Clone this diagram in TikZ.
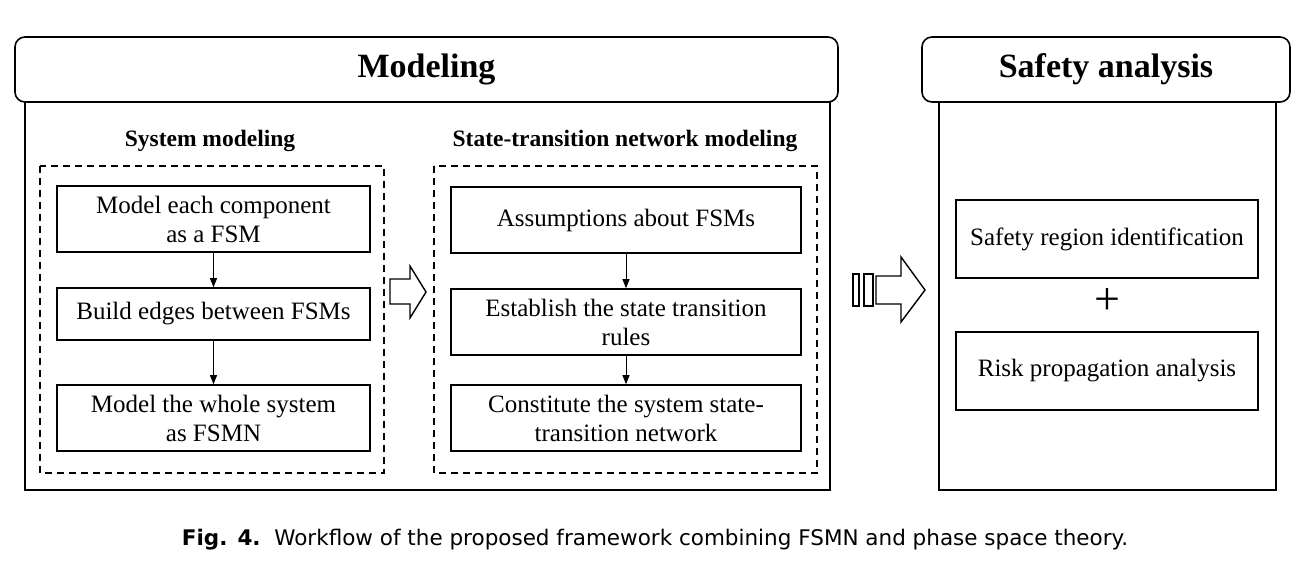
\documentclass[tikz,border=0pt]{standalone}
\usepackage{fontspec}
\setmainfont{Liberation Serif}
\newfontfamily\capfont{DejaVu Sans}
\usetikzlibrary{arrows.meta}
\begin{document}
\begin{tikzpicture}[x=1pt,y=-1pt,line width=1.6pt,
  bx/.style={draw,minimum width=313pt,align=center,font=\fontsize{25}{29}\selectfont,inner sep=2pt},
  sbx/.style={draw,minimum width=302pt,minimum height=78pt,align=center,font=\fontsize{25}{29}\selectfont},
  hd/.style={draw,rounded corners=10pt,font=\bfseries\fontsize{34}{38}\selectfont},
  dbox/.style={draw,dashed,dash pattern=on 7pt off 5pt,line width=1.8pt},
  ar/.style={-{Triangle[length=9pt,width=7pt]},line width=1pt},
  holl/.style={draw,line width=1.4pt,line join=miter}]
\useasboundingbox (0,0) rectangle (1310,575);
% Modeling frame
\draw (25,102) rectangle (830,490);
\node[hd,minimum width=823pt,minimum height=65pt] (mh) at (426.5,69.5) {Modeling};
\draw (939,102) rectangle (1276,490);
\node[hd,minimum width=368pt,minimum height=65pt] (sh) at (1106,69.5) {Safety analysis};
% left column
\node[font=\bfseries\fontsize{23.5}{27}\selectfont] (t1) at (210,141) {System modeling};
\draw[dbox] (40,166) rectangle (384,473);
\node[bx,minimum height=66pt] (a1) at (213.5,219) {Model each component\\as a FSM};
\node[bx,minimum height=52pt] (a2) at (213.5,314) {Build edges between FSMs};
\node[bx,minimum height=66pt] (a3) at (213.5,418) {Model the whole system\\as FSMN};
\draw[ar] (a1) -- (a2);
\draw[ar] (a2) -- (a3);
\draw[holl] (390,279) -- (410,279) -- (410,266) -- (426,292) -- (410,318) -- (410,304) -- (390,304) -- cycle;
% middle column
\node[font=\bfseries\fontsize{23.5}{27}\selectfont] (t2) at (625,141) {State-transition network modeling};
\draw[dbox] (434,166) rectangle (817,473);
\node[bx,minimum width=350pt,minimum height=66pt] (b1) at (626,220) {Assumptions about FSMs};
\node[bx,minimum width=350pt,minimum height=66pt] (b2) at (626,322) {Establish the state transition\\rules};
\node[bx,minimum width=350pt,minimum height=66pt] (b3) at (626,418) {Constitute the system state-\\transition network};
\draw[ar] (b1) -- (b2);
\draw[ar] (b2) -- (b3);
% double bar arrow
\draw[line width=1.3pt] (853,274) rectangle (859,306);
\draw[line width=1.3pt] (864,274) rectangle (873,306);
\draw[holl] (876,276) -- (901,276) -- (901,257) -- (925,290) -- (901,322) -- (901,304) -- (876,304) -- cycle;
% safety column
\node[sbx] (c1) at (1107,239) {Safety region identification};
\node[font=\fontsize{46}{46}\selectfont] (plus) at (1107,302) {+};
\node[sbx] (c2) at (1107,371) {Risk propagation analysis};
% caption
\node[font=\capfont\fontsize{21.5}{25}\selectfont] (cap) at (655,540) {\textbf{Fig. 4.}\ \ Workflow of the proposed framework combining FSMN and phase space theory.};
\end{tikzpicture}
\end{document}
